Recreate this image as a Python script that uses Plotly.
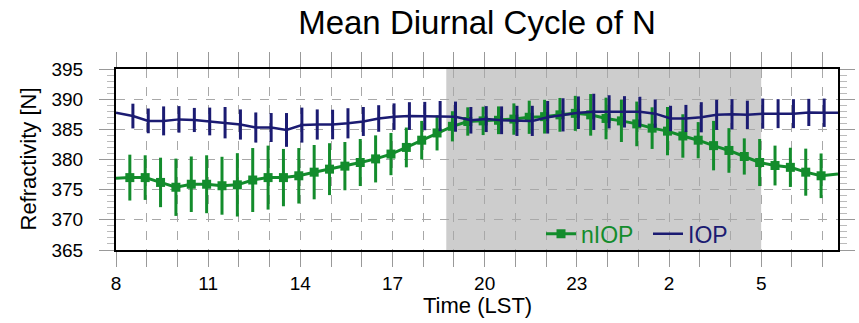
import plotly.graph_objects as go

# ---- data ----
hours = [8.5 + 0.5 * k for k in range(46)]  # 8:30 ... 31:00 (=7:00 next day)

niop = [377.0, 377.0, 376.2, 375.4, 375.9, 375.9, 375.65, 375.8, 376.6, 377.0,
        377.0, 377.3, 377.9, 378.4, 378.9, 379.5, 380.1, 380.9, 382.0, 383.2,
        384.4, 385.5, 386.3, 386.4, 386.5, 386.7, 387.0, 387.1, 387.4, 387.65,
        387.4, 386.8, 386.4, 385.9, 385.2, 384.7, 383.9, 383.2, 382.3, 381.5,
        380.5, 379.5, 379.0, 378.7, 377.9, 377.3]
niop_err = [3.8, 3.7, 4.1, 4.75, 4.6, 4.8, 4.8, 5.25, 5.3, 5.3,
            4.75, 4.6, 4.5, 4.3, 4.0, 3.9, 3.9, 3.5, 3.3, 3.2,
            2.9, 2.5, 2.35, 2.35, 2.3, 2.6, 2.75, 2.8, 2.8, 2.9,
            3.45, 3.45, 3.5, 3.7, 3.45, 4.0, 3.6, 3.0, 4.1, 3.7,
            3.0, 3.9, 3.3, 3.25, 3.9, 3.7]

iop = [387.2, 386.4, 386.4, 386.65, 386.55, 386.3, 386.1, 385.8, 385.3, 385.3,
       384.9, 385.7, 385.8, 385.8, 386.0, 386.3, 386.8, 387.1, 387.2, 387.2,
       387.2, 387.1, 386.5, 386.7, 386.5, 386.4, 386.4, 387.0, 387.4, 387.75,
       387.9, 387.9, 387.9, 387.9, 387.6, 386.8, 386.8, 387.0, 387.4, 387.5,
       387.4, 387.6, 387.6, 387.6, 387.8, 387.75]
iop_err = [2.05, 2.05, 2.4, 2.2, 2.0, 2.3, 2.6, 2.5, 2.5, 2.4,
           2.8, 2.9, 2.5, 2.45, 2.5, 2.4, 2.2, 2.2, 2.3, 2.35,
           2.5, 2.5, 2.2, 2.15, 2.3, 2.5, 2.5, 2.7, 2.75, 2.7,
           3.0, 2.75, 2.6, 2.5, 2.35, 2.1, 2.25, 2.5, 2.5, 2.5,
           2.35, 2.5, 2.4, 2.4, 2.25, 2.35]

# line continues to the plot edges (wrap-around values)
edge_hours = [8.0, 31.5]
niop_edge = [376.9, 377.6]
iop_edge = [387.75, 387.75]

night = [18.75, 29.0]  # shaded night period

tick_hours = list(range(8, 32))
tick_labels = [str(h % 24) if (h - 8) % 3 == 0 else "" for h in tick_hours]

GREEN = "#138c2c"
NAVY = "#1b1b72"
FONT = "Liberation Sans, Arial, Helvetica, sans-serif"

offset = {"n": -0.05, "i": 0.05}

fig = go.Figure()


def add_series(vals, errs, edges, color, name, key, with_marker, lw):
    xs = [h + offset[key] for h in hours]
    # edge segments
    fig.add_trace(go.Scatter(
        x=[edge_hours[0], xs[0], None, xs[-1], edge_hours[1]],
        y=[edges[0], vals[0], None, vals[-1], edges[1]],
        mode="lines", line=dict(color=color, width=lw),
        showlegend=False, hoverinfo="skip"))
    fig.add_trace(go.Scatter(
        x=xs, y=vals,
        mode="lines+markers" if with_marker else "lines",
        name=f'<span style="color:{color}">{name}</span>',
        line=dict(color=color, width=lw),
        marker=dict(symbol="square", size=9, color=color),
        error_y=dict(type="data", array=errs, visible=True,
                     color=color, thickness=3, width=0)))


add_series(niop, niop_err, niop_edge, GREEN, "nIOP", "n", True, 3)
add_series(iop, iop_err, iop_edge, NAVY, "IOP", "i", False, 2.5)

fig.add_shape(type="rect", xref="x", yref="paper",
              x0=night[0], x1=night[1], y0=0, y1=1,
              fillcolor="#cdcdcd", line=dict(width=0), layer="below")

L, R, T, B = 116, 21, 69, 73
PW, PH = 859 - L - R, 323 - T - B

fig.update_layout(
    width=859, height=323,
    margin=dict(l=L, r=R, t=T, b=B, autoexpand=False),
    paper_bgcolor="white", plot_bgcolor="white",
    font=dict(family=FONT, size=19, color="black"),
    title=dict(text="Mean Diurnal Cycle of N", x=477 / 859, xanchor="center",
               y=1 - 22 / 323, yanchor="middle", yref="container",
               font=dict(size=33, family=FONT, color="black")),
    legend=dict(orientation="h", x=(541 - L) / PW, y=0.09, xanchor="left",
                yanchor="middle", bgcolor="rgba(0,0,0,0)",
                font=dict(size=23, family=FONT), itemwidth=30,
                entrywidth=62, entrywidthmode="pixels",
                tracegroupgap=0),
    showlegend=True,
    annotations=[
        dict(text="Time (LST)", xref="paper", yref="paper",
             x=0.5, y=-(305 - (T + PH)) / PH, xanchor="center",
             yanchor="middle", showarrow=False,
             font=dict(size=22, family=FONT, color="black")),
        dict(text="Refractivity [N]", xref="paper", yref="paper",
             x=-(L - 28) / PW, y=0.5, xanchor="center", yanchor="middle",
             textangle=-90, showarrow=False,
             font=dict(size=22, family=FONT, color="black")),
    ],
)

fig.update_xaxes(
    range=[8, 31.5], tickvals=tick_hours, ticktext=tick_labels,
    ticks="outside", ticklen=15, tickwidth=1, tickcolor="#999999",
    ticklabelstandoff=0, automargin=False,
    showline=True, linecolor="black", linewidth=2, mirror="ticks",
    showgrid=True, gridcolor="#a8a8a8", griddash="dash", gridwidth=1,
    zeroline=False,
    tickfont=dict(size=19),
)
fig.update_yaxes(
    range=[365, 395], dtick=5, tick0=365,
    ticks="outside", ticklen=15, tickwidth=1, tickcolor="#999999",
    ticklabelstandoff=12, automargin=False,
    minor=dict(dtick=1, ticks="outside", ticklen=7, tickcolor="#bbbbbb",
               showgrid=False),
    showline=True, linecolor="black", linewidth=2, mirror="ticks",
    showgrid=True, gridcolor="#a8a8a8", griddash="dash", gridwidth=1,
    zeroline=False,
    tickfont=dict(size=19),
)

fig.write_html("out.html")
